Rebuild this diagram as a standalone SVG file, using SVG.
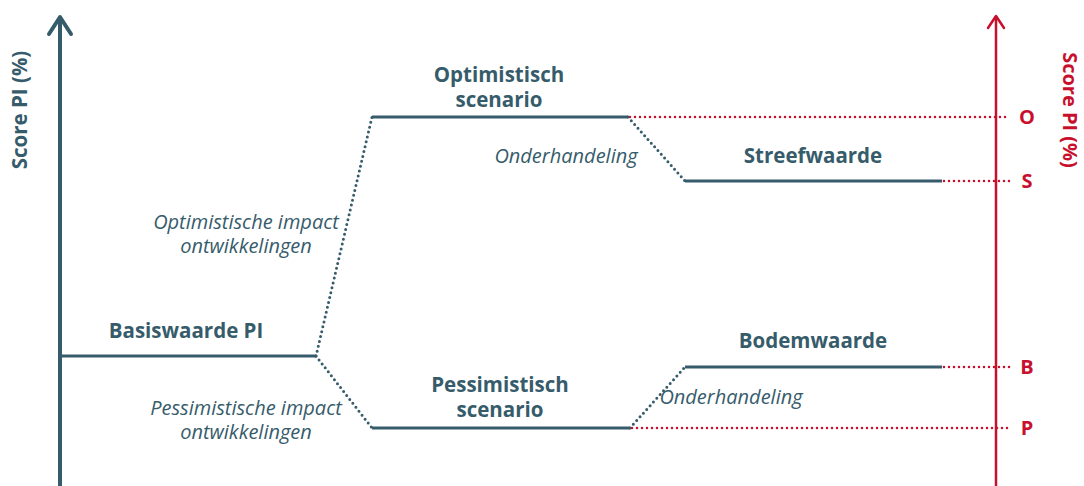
<svg xmlns="http://www.w3.org/2000/svg" width="1084" height="486" viewBox="0 0 1084 486">
<style>
.b{font-family:"Open Sans","Noto Sans",sans-serif;font-weight:700;font-size:20.5px;fill:#365c6b;text-anchor:middle}
.i{font-family:"Open Sans","Noto Sans",sans-serif;font-style:italic;font-size:20px;fill:#365c6b;text-anchor:middle}
.r{font-family:"Open Sans","Noto Sans",sans-serif;font-weight:700;font-size:20px;fill:#c8102e;text-anchor:middle}
.lv{stroke:#365c6b;stroke-width:3;fill:none}
.dt{stroke:#365c6b;stroke-width:3;stroke-dasharray:0 5;stroke-linecap:round;fill:none}
.rd{stroke:#c8102e;stroke-width:2.5;stroke-dasharray:0 5;stroke-linecap:round;fill:none}
</style>
<rect width="1084" height="486" fill="#fff"/>
<g id="left-axis">
<line x1="60" y1="486" x2="60" y2="17" stroke="#365c6b" stroke-width="4"/>
<polyline points="49,34 60,17 71,34" fill="none" stroke="#365c6b" stroke-width="4" stroke-linecap="round" stroke-linejoin="round"/>
<text class="b" font-size="19" transform="translate(27,110) rotate(-90)">Score PI (%)</text>
</g>
<g id="right-axis">
<line x1="996" y1="486" x2="996" y2="16" stroke="#c8102e" stroke-width="2.5"/>
<polyline points="988,28 996,16 1004,28" fill="none" stroke="#c8102e" stroke-width="2.5" stroke-linecap="round" stroke-linejoin="round"/>
<text class="r" font-size="19" transform="translate(1063,110) rotate(90)">Score PI (%)</text>
<text class="r" x="1027" y="124">O</text>
<text class="r" x="1027" y="188">S</text>
<text class="r" x="1027" y="374">B</text>
<text class="r" x="1027" y="435">P</text>
</g>
<g id="connectors">
<line class="dt" x1="316" y1="356" x2="372" y2="117"/>
<line class="dt" x1="316" y1="356" x2="372" y2="428"/>
<line class="dt" x1="628" y1="117" x2="685" y2="181"/>
<line class="dt" x1="630" y1="428" x2="685" y2="367"/>
<line class="rd" x1="630" y1="117" x2="1010" y2="117"/>
<line class="rd" x1="944" y1="181" x2="1010" y2="181"/>
<line class="rd" x1="944" y1="367" x2="1010" y2="367"/>
<line class="rd" x1="632" y1="428" x2="1010" y2="428"/>
</g>
<g id="basis">
<line class="lv" x1="60" y1="356" x2="316" y2="356"/>
<text class="b" x="186" y="338">Basiswaarde PI</text>
</g>
<g id="optimistisch">
<line class="lv" x1="372" y1="117" x2="628" y2="117"/>
<text class="b" x="499" y="82">Optimistisch</text>
<text class="b" x="499" y="107">scenario</text>
</g>
<g id="pessimistisch">
<line class="lv" x1="372" y1="428" x2="630" y2="428"/>
<text class="b" x="500" y="392">Pessimistisch</text>
<text class="b" x="500" y="417">scenario</text>
</g>
<g id="streefwaarde">
<line class="lv" x1="685" y1="181" x2="942" y2="181"/>
<text class="b" x="813" y="163">Streefwaarde</text>
</g>
<g id="bodemwaarde">
<line class="lv" x1="685" y1="367" x2="942" y2="367"/>
<text class="b" x="813" y="348">Bodemwaarde</text>
</g>
<g id="labels">
<text class="i" x="566" y="163">Onderhandeling</text>
<text class="i" x="731" y="404">Onderhandeling</text>
<text class="i" x="246" y="229">Optimistische impact</text>
<text class="i" x="246" y="253">ontwikkelingen</text>
<text class="i" x="246" y="415">Pessimistische impact</text>
<text class="i" x="246" y="439">ontwikkelingen</text>
</g>
</svg>
